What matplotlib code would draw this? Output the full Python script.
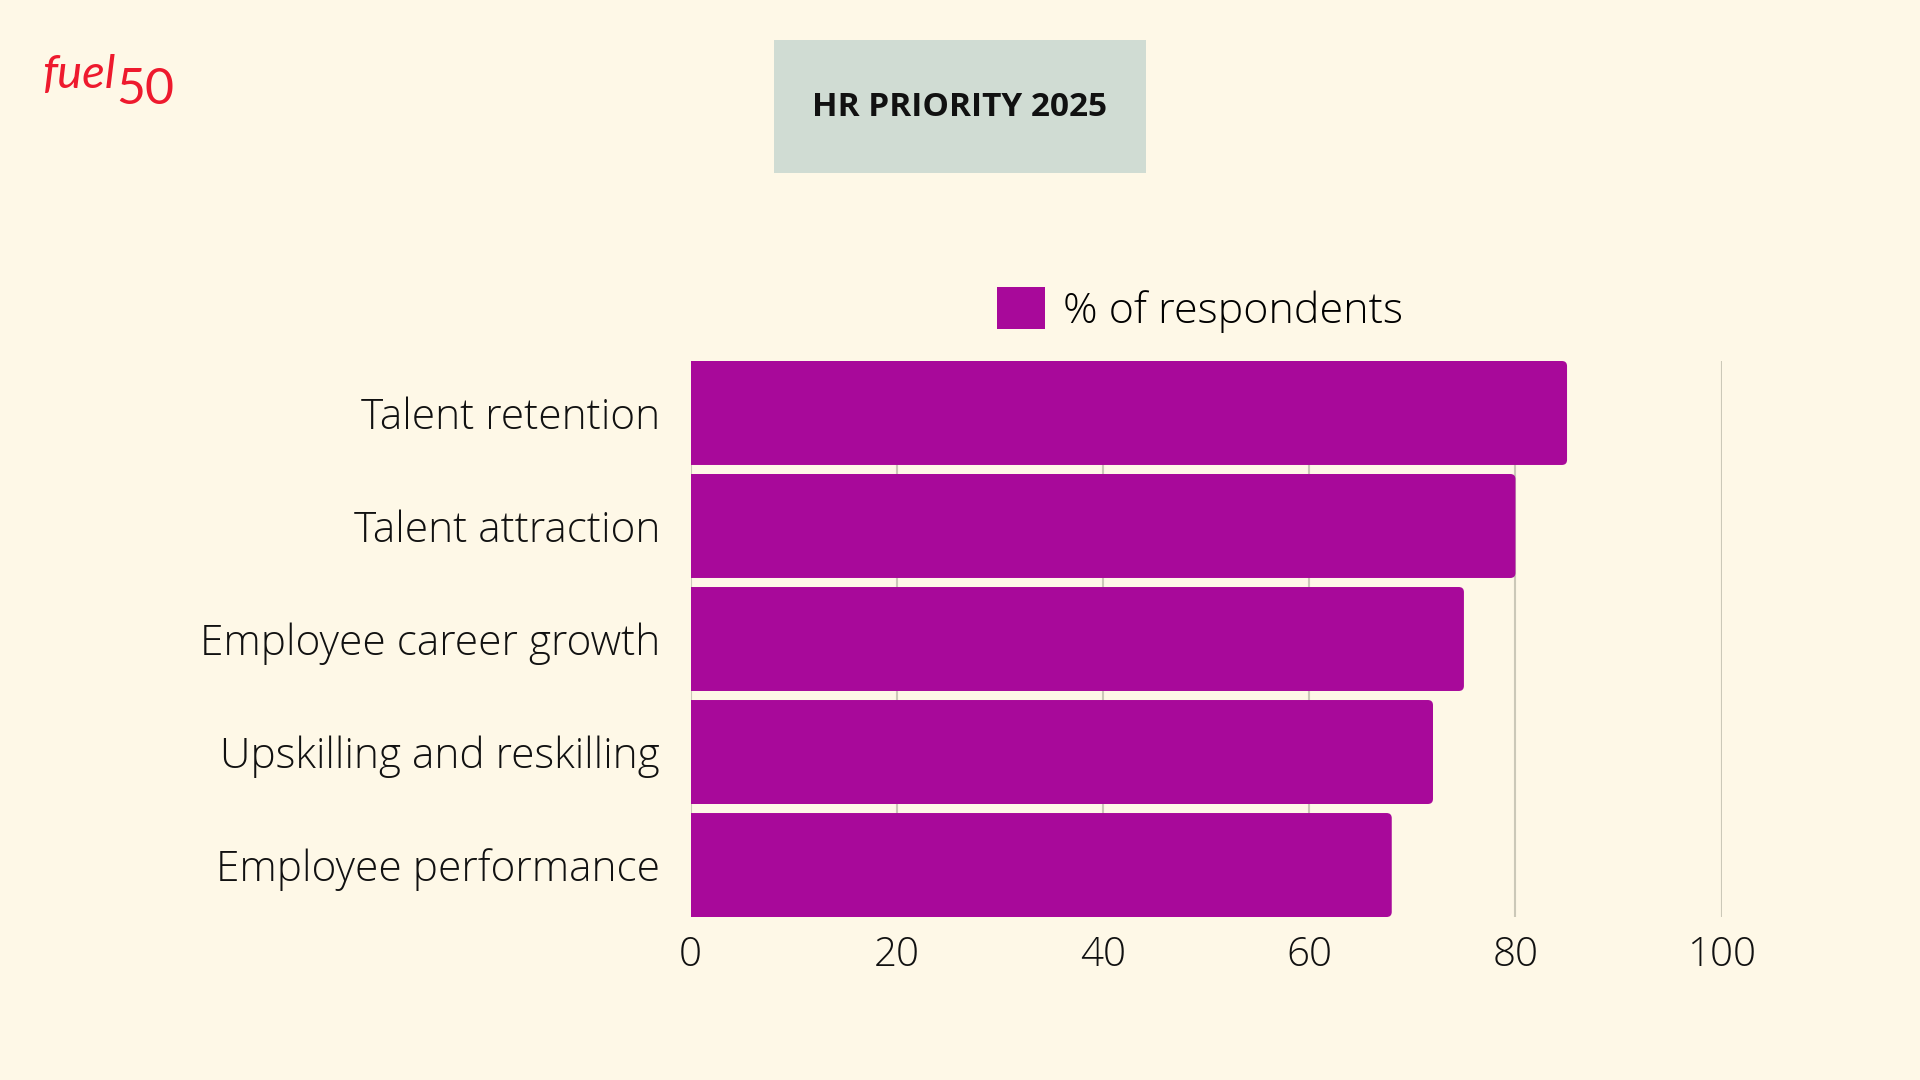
import matplotlib
matplotlib.use("Agg")
import matplotlib.pyplot as plt
from matplotlib.patches import Rectangle, FancyBboxPatch, Patch

categories = ["Talent retention", "Talent attraction", "Employee career growth",
              "Upskilling and reskilling", "Employee performance"]
values = [85, 80, 75, 72, 68]
series_name = "% of respondents"
xticks = [0, 20, 40, 60, 80, 100]
title = "HR PRIORITY 2025"

BG = "#FEF8E7"
BAR = "#A8099A"
GRID = "#CBC8B8"
FONT = ['Open Sans', 'DejaVu Sans']

plt.rcParams['font.family'] = FONT

fig = plt.figure(figsize=(19.2, 10.8), dpi=100, facecolor=BG)
ax = fig.add_axes([690.6/1920, 1-917/1080, (1721.7-690.6)/1920, (917-361)/1080])
ax.set_facecolor(BG)

ypos = list(range(len(categories)))
bars = ax.barh(ypos, values, height=0.92, color=BAR, zorder=3)
ax.set_ylim(4.46, -0.46)
ax.set_xlim(0, 100)

# rounded right ends (left end extends past the axis and is clipped)
rx = 0.5
ry = 0.045
for b in bars:
    x, y = b.get_x(), b.get_y()
    w, h = b.get_width(), b.get_height()
    p = FancyBboxPatch((x - 3, y), w + 3, h,
                       boxstyle=f"round,pad=0,rounding_size={rx}",
                       mutation_aspect=ry / rx, facecolor=BAR, edgecolor='none',
                       zorder=3, clip_on=True)
    ax.add_patch(p)
    b.set_visible(False)

ax.set_yticks(ypos)
ax.set_yticklabels(categories, fontweight='light')
ax.set_xticks(xticks)
ax.set_xticklabels([str(t) for t in xticks], fontweight='light')
ax.tick_params(axis='y', length=0, pad=22, labelsize=30.5, labelcolor="#111111")
ax.tick_params(axis='x', length=0, pad=13, labelsize=29, labelcolor="#111111")
ax.grid(axis='x', color=GRID, linewidth=1.5, zorder=0)
ax.grid(axis='y', visible=False)
for s in ax.spines.values():
    s.set_visible(False)

leg = fig.legend(handles=[Patch(facecolor=BAR, label=series_name)],
                 loc='center', bbox_to_anchor=(1200/1920, 1-310/1080), frameon=False,
                 prop={'size': 31, 'weight': 'light'},
                 handlelength=1.11, handleheight=1.11, handletextpad=0.4,
                 borderpad=0, borderaxespad=0)

# title box
fig.patches.append(Rectangle((774/1920, 1-173/1080), (1146-774)/1920, (173-40)/1080,
                             transform=fig.transFigure, facecolor="#D0DCD3",
                             edgecolor='none', zorder=1))
fig.text(960/1920, 1-108/1080, title, ha='center', va='center', fontsize=24,
         fontweight='bold', family=FONT, color="#111111")

# logo
fig.text(42/1920, 1-88/1080, "fuel", ha='left', va='baseline', fontsize=34,
         style='italic', color="#EE1A2E", family=['Lato', 'DejaVu Sans'])
fig.text(116/1920, 1-104/1080, "50", ha='left', va='baseline', fontsize=36,
         color="#EE1A2E", family=['Lato', 'DejaVu Sans'])

fig.savefig("out.png", dpi=100, facecolor=BG)
